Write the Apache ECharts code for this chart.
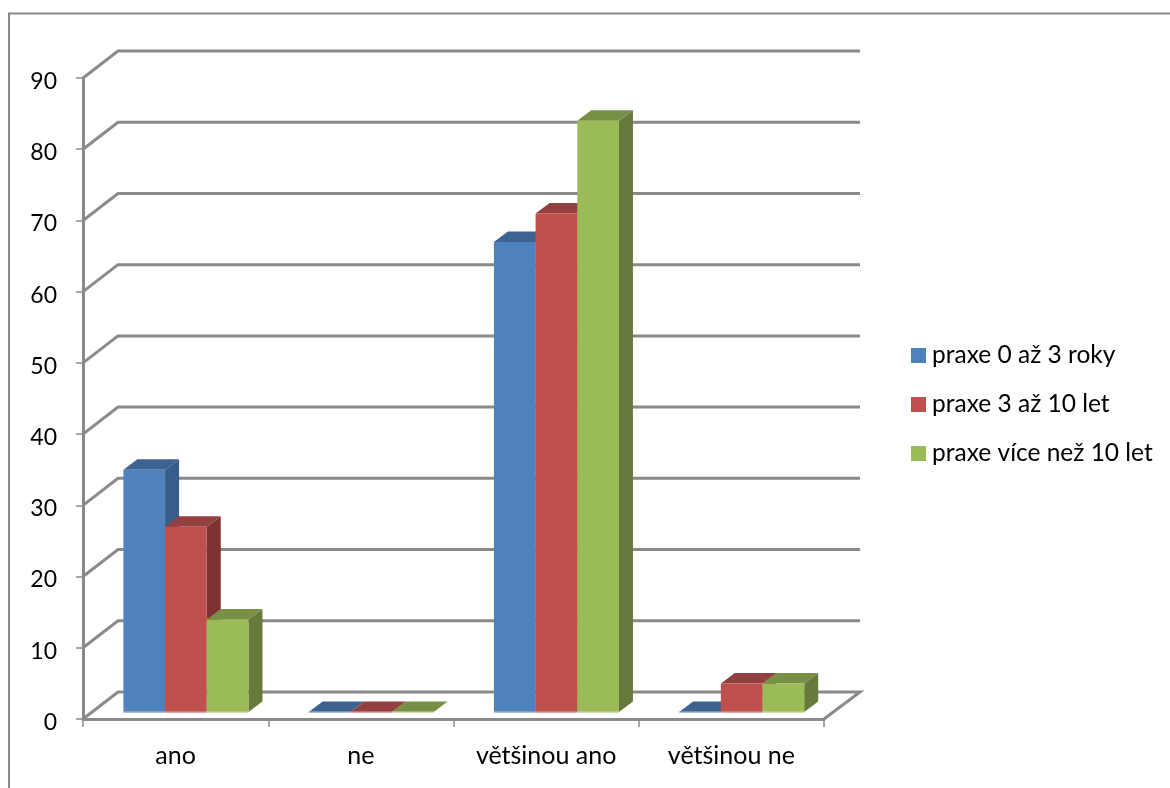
<!DOCTYPE html>
<html>
<head>
<meta charset="utf-8">
<style>html,body{margin:0;padding:0;background:#fff}#c{width:1170px;height:788px}</style>
<script src="https://cdn.jsdelivr.net/npm/echarts@6/dist/echarts.min.js"></script>
</head>
<body>
<div id="c"></div>
<script>
var categories = ['ano', 'ne', 'většinou ano', 'většinou ne'];
var seriesNames = ['praxe 0 až 3 roky', 'praxe 3 až 10 let', 'praxe více než 10 let'];
var praxe0az3 = [34, 0, 66, 0];
var praxe3az10 = [26, 0, 70, 4];
var praxeNad10 = [13, 0, 83, 4];
var yTicks = [0, 10, 20, 30, 40, 50, 60, 70, 80, 90];

var front = ['#4F81BD', '#C0504D', '#9BBB59'];
var topFace = ['#3D6491', '#934040', '#789045'];
var sideFace = ['#385D8A', '#7F3331', '#667A3B'];
var baseEdge = ['#A7C0DE', '#E0A8A6', '#CDDDAC'];
var GRID = '#8A8A8A';
var FONT = 'Lato, "Open Sans", sans-serif';

var chart = echarts.init(document.getElementById('c'), null, {renderer: 'canvas'});

function wallItem(params, api) {
  var cs = params.coordSys;
  var v = api.value(1);
  var y = api.coord([0, v])[1];
  var l = cs.x, r = cs.x + cs.width;
  var pts = [[l, y], [l + 35, y - 27], [r + 36, y - 27]];
  if (v === 0) pts.push([r, y]);
  return {
    type: 'polyline',
    shape: {points: pts},
    style: {stroke: GRID, lineWidth: 3, fill: null},
    silent: true
  };
}

function barRenderer(i) {
  return function (params, api) {
    var c = api.value(0), v = api.value(1);
    var band = api.size([1, 0])[0];
    var w = band * 0.225;
    var cx = api.coord([c, 0])[0] + band * 0.0556;
    var base = api.coord([c, 0])[1] - 7;
    var topY = api.coord([c, v])[1] - 7;
    var x0 = cx + (i - 1.5) * w, x1 = x0 + w;
    var dx = 14, dy = 10.5;
    var kids = [];
    if (v > 0) {
      kids.push({type: 'polygon', shape: {points: [[x1, topY], [x1 + dx, topY - dy], [x1 + dx, base - dy], [x1, base]]},
        style: {fill: sideFace[i]}});
    }
    kids.push({type: 'polygon', shape: {points: [[x0, topY], [x0 + dx, topY - dy], [x1 + dx, topY - dy], [x1, topY]]},
      style: {fill: topFace[i]}});
    if (v > 0) {
      kids.push({type: 'rect', shape: {x: x0, y: topY, width: w, height: base - topY}, style: {fill: front[i]}});
    }
    kids.push({type: 'rect', shape: {x: x0, y: base - 0.5, width: w, height: 1.6}, style: {fill: baseEdge[i]}});
    return {type: 'group', children: kids};
  };
}

function pairs(vals) { return vals.map(function (v, k) { return [k, v]; }); }

var seriesVals = [praxe0az3, praxe3az10, praxeNad10];
var series = [{
  type: 'custom', name: 'walls', silent: true, z: 1,
  renderItem: wallItem,
  encode: {x: 0, y: 1},
  data: yTicks.map(function (t) { return [0, t]; })
}];
seriesVals.forEach(function (vals, i) {
  series.push({
    type: 'custom', name: seriesNames[i], z: 3 + i,
    itemStyle: {color: front[i]},
    renderItem: barRenderer(i),
    encode: {x: 0, y: 1},
    data: pairs(vals)
  });
});

chart.setOption({
  animation: false,
  backgroundColor: '#fff',
  textStyle: {fontFamily: FONT},
  grid: {left: 83, top: 78, width: 741, height: 641, containLabel: false},
  legend: {
    data: seriesNames, orient: 'vertical', left: 911, top: 343, padding: 0,
    itemWidth: 15, itemHeight: 15, itemGap: 24, icon: 'rect',
    selectedMode: false,
    textStyle: {fontFamily: FONT, fontSize: 24.5, color: '#000', padding: [0, 0, 0, 1]}
  },
  xAxis: {
    type: 'category', data: categories,
    axisLine: {show: true, lineStyle: {color: GRID, width: 3}},
    axisTick: {show: true, length: 8, lineStyle: {color: GRID, width: 1.5}},
    axisLabel: {color: '#000', fontFamily: FONT, fontSize: 25, margin: 24}
  },
  yAxis: {
    type: 'value', min: 0, max: 90, interval: 10,
    splitLine: {show: false},
    axisLine: {show: true, lineStyle: {color: GRID, width: 3}},
    axisTick: {show: true, length: 7, lineStyle: {color: GRID, width: 1.5}},
    axisLabel: {
      color: '#000', fontFamily: FONT, fontSize: 23, margin: 26,
      formatter: function (v) { return '{n|' + v + '}'; },
      rich: {n: {color: '#000', fontFamily: FONT, fontSize: 23, padding: [7, 0, 0, 0]}}
    }
  },
  graphic: [{
    type: 'polyline', silent: true,
    shape: {points: [[9, 800], [9, 13.5], [1180, 13.5]]},
    style: {stroke: '#8A8A8A', lineWidth: 2, fill: null}
  }],
  series: series
});
</script>
</body>
</html>
